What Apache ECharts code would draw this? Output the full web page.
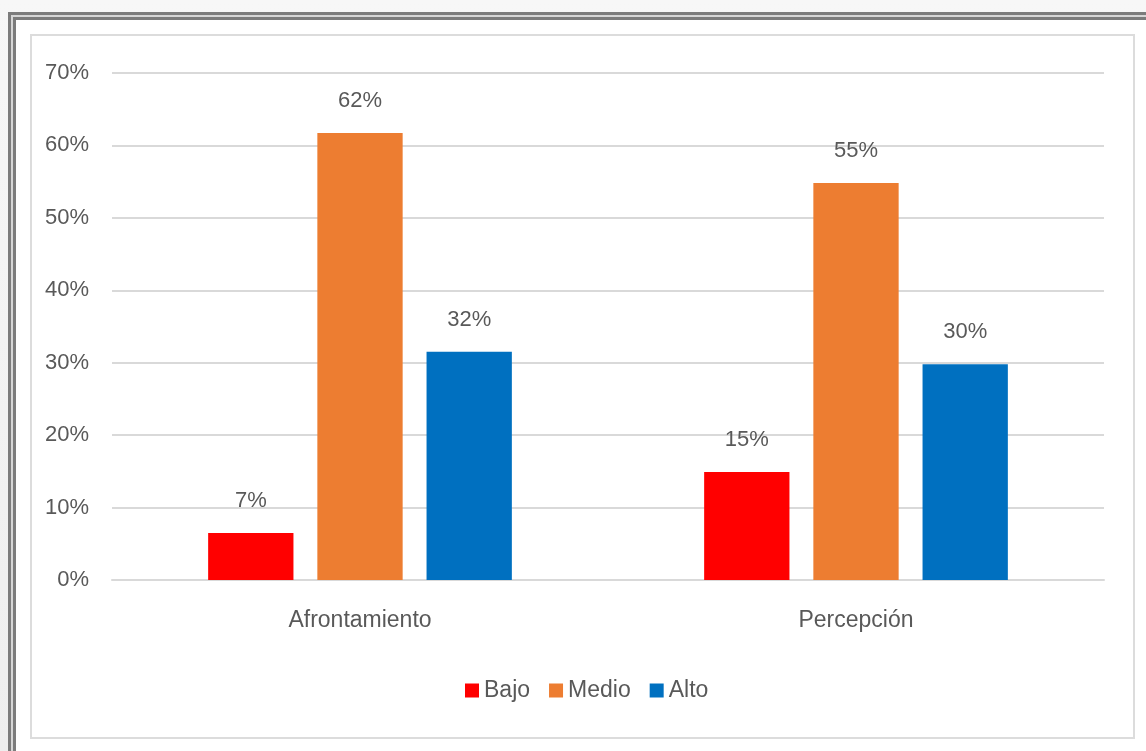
<!DOCTYPE html>
<html><head><meta charset="utf-8">
<script src="https://cdn.jsdelivr.net/npm/echarts@6/dist/echarts.min.js"></script>
<style>
html,body{margin:0;padding:0;width:1146px;height:751px;overflow:hidden;background:linear-gradient(#f7f7f7,#eeeeee);}
#f1{position:absolute;left:8px;top:12px;width:1200px;height:800px;border:3px solid #7c7c7c;background:#d6d6d6;box-sizing:border-box;}
#f2{position:absolute;left:13px;top:17px;width:1200px;height:800px;border:3px solid #7c7c7c;background:#ffffff;box-sizing:border-box;}
#f3{position:absolute;left:30px;top:34px;width:1105px;height:705px;border:2px solid #dcdcdc;box-sizing:border-box;}
#c{position:absolute;left:0;top:0;width:1146px;height:751px;}
</style></head>
<body>
<div id="f1"></div><div id="f2"></div><div id="f3"></div>
<div id="c"></div>
<script>
const categories = ['Afrontamiento', 'Percepción'];
const seriesNames = ['Bajo', 'Medio', 'Alto'];
const bajo = [6.5, 14.9];
const medio = [61.7, 54.8];
const alto = [31.5, 29.8];
const yTicks = [0, 10, 20, 30, 40, 50, 60, 70];
const colors = ['#ff0000', '#ed7d31', '#0070c0'];

const font = "'Liberation Sans', Arial, sans-serif";
const txt = '#595959';
const chart = echarts.init(document.getElementById('c'), null, {renderer: 'canvas'});
const values = [bajo, medio, alto];
chart.setOption({
  backgroundColor: 'transparent',
  animation: false,
  textStyle: {fontFamily: font},
  grid: {left: 112, right: 42, top: 73, bottom: 171},
  legend: {
    data: seriesNames, bottom: 44, left: 460, padding: 5,
    itemWidth: 14, itemHeight: 14, itemGap: 19, icon: 'rect',
    textStyle: {fontSize: 23, color: txt, fontFamily: font}
  },
  xAxis: {
    type: 'category', data: categories,
    axisLine: {lineStyle: {color: '#d9d9d9', width: 2}},
    axisTick: {show: false},
    axisLabel: {fontSize: 23, color: txt, margin: 29, fontFamily: font}
  },
  yAxis: {
    type: 'value', min: yTicks[0], max: yTicks[yTicks.length - 1], interval: 10,
    axisLine: {show: false}, axisTick: {show: false},
    splitLine: {lineStyle: {color: '#d9d9d9', width: 2}},
    axisLabel: {fontSize: 22, color: txt, margin: 23, fontFamily: font, formatter: v => v + '%'}
  },
  series: seriesNames.map((n, i) => ({
    name: n, type: 'bar', data: values[i],
    barWidth: '17.2%', barGap: '28%', barCategoryGap: '39%',
    itemStyle: {color: colors[i]},
    label: {show: true, position: 'top', distance: 21, fontSize: 22, color: txt, fontFamily: font,
      formatter: p => Math.round(p.value) + '%'}
  }))
});
</script>
</body></html>
